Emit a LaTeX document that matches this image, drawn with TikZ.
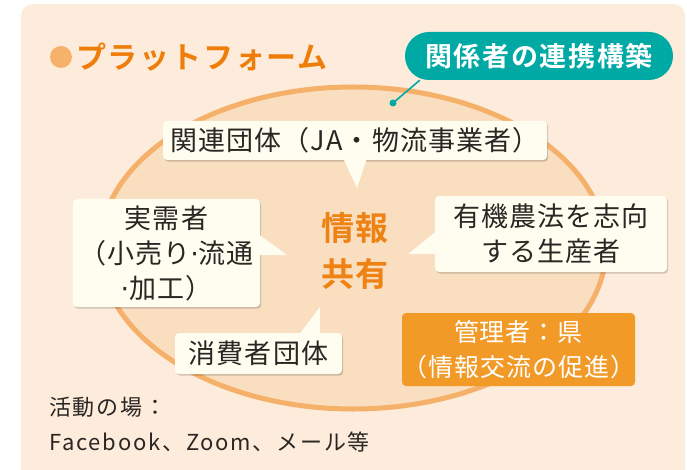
\documentclass[tikz,border=0pt]{standalone}
\usepackage{fontspec}
\setmainfont{Noto Sans CJK JP}
\newfontfamily\cardfont{Noto Sans CJK JP}[LetterSpace=4]
\newfontfamily\placefont{Noto Sans CJK JP}[LetterSpace=8]
\newfontfamily\boldjp{Noto Sans CJK JP Bold}[LetterSpace=6]
\usetikzlibrary{shapes.geometric,shadows}
\definecolor{bgc}{HTML}{FDECDB}
\definecolor{ellfill}{HTML}{FADEC0}
\definecolor{ellline}{HTML}{F5B06A}
\definecolor{tealc}{HTML}{00A9A4}
\definecolor{titleor}{HTML}{EE7D0A}
\definecolor{dotc}{HTML}{F6B26B}
\definecolor{cardc}{HTML}{FFFCF0}
\definecolor{ink}{HTML}{2A2623}
\definecolor{infoor}{HTML}{EE8214}
\definecolor{mgrc}{HTML}{F29A28}
\tikzset{
  card/.style={fill=cardc, rounded corners=4pt, inner sep=0pt, text=ink, align=center,
    font={\cardfont\fontsize{27}{35}\selectfont},
    drop shadow={shadow xshift=1.2pt, shadow yshift=-1.6pt, fill=black, opacity=0.18}},
  ptr/.style={fill=cardc},
}
\begin{document}
\begin{tikzpicture}[x=1pt,y=-1pt]
\useasboundingbox (0,0) rectangle (687,470);
\fill[white] (0,0) rectangle (687,470);
\fill[bgc] (21,470) [rounded corners=12pt]-- (21,4) -- (685,4) [sharp corners]-- (685,470) -- cycle;
% platform ellipse
\node[ellipse, draw=ellline, fill=ellfill, line width=5pt, minimum width=506pt, minimum height=322pt, inner sep=0pt] (plat) at (353,248) {};
% title
\node[circle, fill=dotc, minimum size=22pt, inner sep=0pt] (dot) at (61,57) {};
\node[anchor=west, text=titleor, font={\boldjp\fontsize{30}{32}\selectfont}, inner sep=0pt] (title) at (76,57) {プラットフォーム};
% badge
\node[fill=tealc, rounded corners=24pt, minimum width=268pt, minimum height=48pt, inner sep=0pt, text=white, font={\boldjp\fontsize{27}{29}\selectfont}] (badge) at (539,56) {関係者の連携構築};
\coordinate (bdot) at (393,103);
\draw[tealc, line width=1.6pt] ([xshift=15pt]badge.south west) -- (bdot);
\fill[tealc] (bdot) circle (3.5pt);
% cards
\node[card, minimum width=384pt, minimum height=39pt] (rel) at (355,140.5) {関連団体（JA・物流事業者）};
\node[card, minimum width=187pt, minimum height=108pt] (jit) at (166.5,253) {実需者\\（小売り{\fontspec{DejaVu Sans}·}流通\\{\fontspec{DejaVu Sans}·}加工）};
\node[card, minimum width=232pt, minimum height=76pt] (org) at (551,234) {有機農法を志向\\する生産者};
\node[card, minimum width=167pt, minimum height=41pt] (con) at (258.5,353.5) {消費者団体};
% pointers
\coordinate (relTip) at (357,188);
\coordinate (jitTip) at (287,255);
\coordinate (orgTip) at (408,254);
\coordinate (conTip) at (320,307);
\fill[cardc] (343,158) -- (relTip) -- (367,158) -- cycle;
\fill[cardc] (257,233) -- (jitTip) -- (257,255) -- cycle;
\fill[cardc] (438,230) -- (orgTip) -- (438,254) -- cycle;
\fill[cardc] (298,336) -- (conTip) -- (320,336) -- cycle;
% center text
\node[text=infoor, align=center, font={\boldjp\fontsize{33}{46}\selectfont}] (info) at (355,251) {情報\\共有};
% manager
\node[fill=mgrc, rounded corners=4pt, minimum width=223pt, minimum height=73pt, inner sep=0pt, text=white, align=center, font={\cardfont\fontsize{25}{35}\selectfont}] (mgr) at (518.5,349.5) {管理者：県\\（情報交流の促進）};
% place
\node[anchor=west, inner sep=0pt, text=ink, align=left, font={\placefont\fontsize{22}{35}\selectfont}] (place) at (49,424.5) {活動の場：\\Facebook、Zoom、メール等};
\end{tikzpicture}
\end{document}
